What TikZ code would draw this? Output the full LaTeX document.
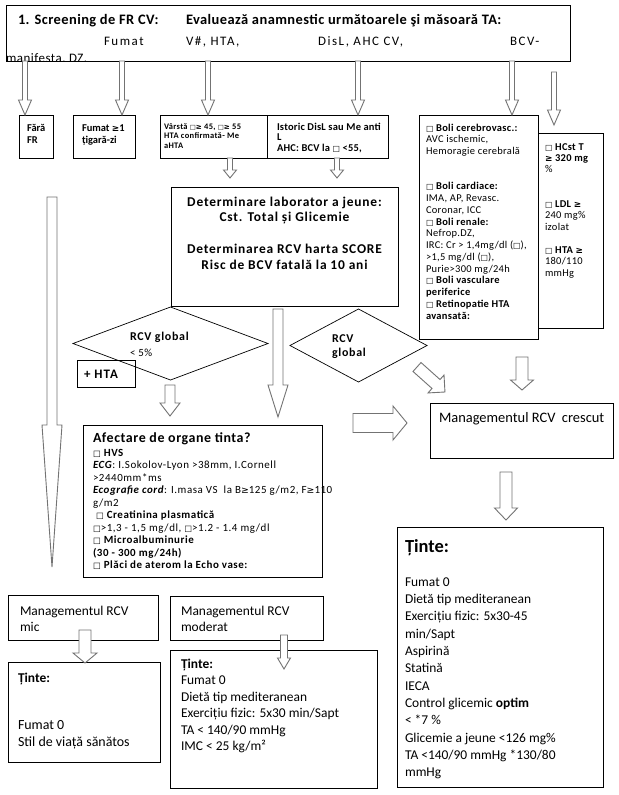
\documentclass[tikz,border=0pt]{standalone}
\usepackage{fontspec}
\usepackage{graphicx}
\setmainfont{Carlito}
\newfontfamily\djv{DejaVu Sans}
\usetikzlibrary{shapes.geometric}
\definecolor{arrowgray}{RGB}{115,115,115}
\newcommand\mysq{\scalebox{0.75}{\djv □}}
\newcommand\myge{\scalebox{0.85}{\djv ≥}}
\newcommand\fs[2]{\fontsize{#1}{#2}\selectfont}
\newcommand\ls[1]{\addfontfeatures{LetterSpace=#1}}
\newcommand\mlines[1]{\vtop{\halign{##\hfil\cr#1\crcr}}}
\newcommand\clines[1]{\vtop{\halign{\hfil##\hfil\cr#1\crcr}}}
\newcommand\garrow[7]{\begin{scope}[shift={(#1,#2)},rotate=#3]\draw[barrow] (-#5,0) -- (#5,0) -- (#5,{#4-#7}) -- (#6,{#4-#7}) -- (0,#4) -- (-#6,{#4-#7}) -- (-#5,{#4-#7}) -- cycle;\end{scope}}
\tikzset{
  box/.style={draw=black, line width=0.8bp, anchor=north west, inner sep=0pt, outer sep=0pt},
  dia/.style={diamond, draw=black, line width=0.7bp, inner sep=0pt, outer sep=0pt},
  barrow/.style={draw=arrowgray, fill=white, line width=0.9bp, line join=miter},
  tx/.style={anchor=base west, inner sep=0pt, outer sep=0pt},
  ctx/.style={anchor=base, inner sep=0pt, outer sep=0pt},
}
\begin{document}
\begin{tikzpicture}[x=1bp,y=-1bp]
\useasboundingbox (0,0) rectangle (619,795);
\fill[white] (0,0) rectangle (619,795);

% ---------- header
\node[box, minimum width=564bp, minimum height=56bp] (hdr) at (6,5) {};
\begin{scope}
\clip (6,5) rectangle (570,61);
\node[tx, font={\fs{14.5}{16}\bfseries\ls{3}}] (h1) at (18,25) {1. Screening de FR CV:};
\node[tx, font={\fs{14.5}{16}\bfseries\ls{3}}] (h2) at (186,25) {Evaluează anamnestic următoarele şi măsoară TA:};
\node[tx, font={\fs{13}{15}\ls{12}}] (h3) at (104,46) {Fumat};
\node[tx, font={\fs{13}{15}\ls{12}}] (h4) at (186,46) {V\#, HTA,};
\node[tx, font={\fs{13}{15}\ls{12}}] (h5) at (318,46) {DisL, AHC CV,};
\node[tx, font={\fs{13}{15}\ls{12}}] (h6) at (510,46) {BCV-};
\node[tx, font={\fs{13}{15}\ls{4}}] (h7) at (6,63) {manifesta, DZ.};
\end{scope}

% ---------- first row boxes
\node[box, minimum width=34bp, minimum height=43bp] (b1) at (19,115) {};
\node[tx, font={\fs{10.5}{13}\bfseries}] (t1) at (27,131) {\mlines{Fără\cr FR}};
\node[box, minimum width=62bp, minimum height=43bp] (b2) at (73,115) {};
\node[tx, font={\fs{10.5}{13}\bfseries}] (t2) at (82,131) {\mlines{Fumat \myge1\cr țigară-zi}};
\node[box, minimum width=107bp, minimum height=43bp] (b3) at (160,115) {};
\node[tx, font={\fs{8.5}{10}\bfseries\ls{4}}] (t3) at (164,129) {\mlines{Vârstă \mysq\myge\ 45, \mysq\myge\ 55\cr HTA confirmată- Me\cr aHTA}};
\node[box, minimum width=121bp, minimum height=43bp] (b4) at (267,115) {};
\node[tx, font={\fs{10.5}{11}\bfseries\ls{2}}] (t4) at (277,130) {\mlines{Istoric DisL sau Me anti\cr L\cr AHC: BCV la \mysq\ <55,}};

\node[box, minimum width=119bp, minimum height=224bp] (b5) at (419,115) {};
\node[tx, font={\fs{10.5}{11.8}\ls{3}}] (t5) at (426,131) {\mlines{\mysq\ \textbf{Boli cerebrovasc.:}\cr AVC ischemic,\cr Hemoragie cerebrală\cr\cr\cr
\mysq\ \textbf{Boli cardiace:}\cr IMA, AP, Revasc.\cr Coronar, ICC\cr \mysq\ \textbf{Boli renale:}\cr Nefrop.DZ,\cr IRC: Cr > 1,4mg/dl (\mysq),\cr >1,5 mg/dl (\mysq),\cr Purie>300 mg/24h\cr
\mysq\ \textbf{Boli vasculare}\cr \textbf{periferice}\cr \mysq\ \textbf{Retinopatie HTA}\cr \textbf{avansată:}}};
\node[box, minimum width=65bp, minimum height=195bp] (b6) at (538,133) {};
\node[tx, font={\fs{10.5}{11.5}\ls{3}}] (t6) at (545,150) {\mlines{\mysq\ \textbf{HCst T}\cr \textbf{\myge\ 320 mg}\cr \%\cr\cr\cr \mysq\ \textbf{LDL \myge}\cr 240 mg\%\cr izolat\cr\cr \mysq\ \textbf{HTA \myge}\cr 180/110\cr mmHg}};

% ---------- laboratory box
\node[box, minimum width=227bp, minimum height=119bp] (b7) at (171,187) {};
\node[ctx, font={\fs{13.5}{16}\bfseries\ls{6}}] (t7) at (284.5,206) {\clines{Determinare laborator a jeune:\cr Cst. Total și Glicemie\cr\cr Determinarea RCV harta SCORE\cr Risc de BCV fatală la 10 ani}};

% ---------- diamonds
\node[dia, minimum width=195bp, minimum height=73bp] (d1) at (170.5,343.5) {};
\node[tx, font={\fs{12}{13}\bfseries\ls{6}}] (d1t) at (130,340) {RCV global};
\node[tx, font={\fs{11}{12}\ls{4}}] (d1u) at (130,356) {< 5\%};
\node[dia, minimum width=137bp, minimum height=73bp] (d2) at (358.5,345.5) {};
\node[tx, font={\fs{12}{15}\bfseries\ls{6}}] (d2t) at (332,342) {\mlines{RCV\cr global}};
\node[box, minimum width=58bp, minimum height=27bp] (b8) at (77,360) {};
\node[tx, font={\fs{13}{14}\bfseries\ls{8}}] (t8) at (84,378) {+ HTA};

% ---------- target organ box
\node[box, minimum width=239bp, minimum height=152bp] (b9) at (83,425) {};
\node[tx, font={\fs{14}{16}\bfseries\ls{4}}] (t9a) at (93,442) {Afectare de organe tinta?};
\node[tx, font={\fs{11}{12.6}\ls{5}}] (t9) at (93,456) {\mlines{\mysq\ \textbf{HVS}\cr \textbf{\textit{ECG}}: I.Sokolov-Lyon >38mm, I.Cornell\cr >2440mm*ms\cr \textbf{\textit{Ecografie cord}}: I.masa VS\ \ la B\myge125 g/m2, F\myge110\cr g/m2\cr
\ \mysq\ \textbf{Creatinina plasmatică}\cr \mysq>1,3 - 1,5 mg/dl, \mysq>1.2 - 1.4 mg/dl\cr \mysq\ \textbf{Microalbuminurie}\cr \textbf{(30 - 300 mg/24h)}\cr \mysq\ \textbf{Plăci de aterom la Echo vase:}}};

% ---------- high risk
\node[box, minimum width=183bp, minimum height=55bp] (b10) at (430,403) {};
\node[tx, font={\fs{14.5}{16}}] (t10) at (439,422) {Managementul RCV\ \ crescut};
\node[box, minimum width=206bp, minimum height=260bp] (b11) at (397,527) {};
\node[tx, font={\fs{18.5}{20}\bfseries}] (t11a) at (405,552) {Ținte:};
\node[tx, font={\fs{13.5}{17.4}}] (t11) at (405,586) {\mlines{Fumat 0\cr Dietă tip mediteranean\cr Exercițiu fizic: 5x30-45\cr min/Sapt\cr Aspirină\cr Statină\cr IECA\cr Control glicemic \textbf{optim}\cr < *7 \%\cr Glicemie a jeune <126 mg\%\cr TA <140/90 mmHg *130/80\cr mmHg}};

% ---------- low risk
\node[box, minimum width=150bp, minimum height=45bp] (b12) at (8,595) {};
\node[tx, font={\fs{13.5}{17}}] (t12) at (20,615) {\mlines{Managementul RCV\cr mic}};
\node[box, minimum width=152bp, minimum height=100bp] (b13) at (8,662) {};
\node[tx, font={\fs{13.5}{15}\bfseries}] (t13a) at (18,682) {Ținte:};
\node[tx, font={\fs{14}{18}}] (t13) at (18,729) {\mlines{Fumat 0\cr Stil de viață sănătos}};

% ---------- moderate risk
\node[box, minimum width=153bp, minimum height=44bp] (b14) at (170,596) {};
\node[tx, font={\fs{13.5}{17}}] (t14) at (181,615) {\mlines{Managementul RCV\cr moderat}};
\node[box, minimum width=207bp, minimum height=138bp] (b15) at (170,650) {};
\node[tx, font={\fs{13.5}{16.6}}] (t15) at (181,668) {\mlines{\textbf{Ținte:}\cr Fumat 0\cr Dietă tip mediteranean\cr Exercițiu fizic: 5x30 min/Sapt\cr TA < 140/90 mmHg\cr IMC < 25 kg/m²}};

% ---------- block arrows  (x, y, angle, length, shaft hw, head hw, head length)
\garrow{25}{61}{0}{54}{2.5}{6.5}{15}
\garrow{122}{61}{0}{54}{2.5}{6.5}{15}
\garrow{208}{61}{0}{54}{2.5}{6.5}{15}
\garrow{358}{61}{0}{54}{2.5}{6.5}{15}
\garrow{512}{61}{0}{54}{2.5}{6.5}{15}
\garrow{554}{72}{0}{53}{2.5}{6.5}{15}
\garrow{230}{158}{0}{20}{2.5}{6.5}{8}
\garrow{337}{158}{0}{20}{2.5}{6.5}{8}
\garrow{52}{197}{0}{370}{5}{10}{142}
\garrow{278}{309}{0}{108}{5}{10}{32}
\garrow{170}{385}{0}{31}{5}{10}{13}
\garrow{353}{423}{90}{54}{9.5}{17}{14}
\garrow{417}{367}{48.2}{37.5}{6}{12}{12}
\garrow{522}{357}{0}{33}{6}{11.5}{10}
\garrow{506}{472}{0}{48}{6}{11.5}{12}
\garrow{85}{630}{0}{33}{6}{12}{10}
\garrow{284}{635}{0}{34}{3.5}{6.5}{11}
\end{tikzpicture}
\end{document}
